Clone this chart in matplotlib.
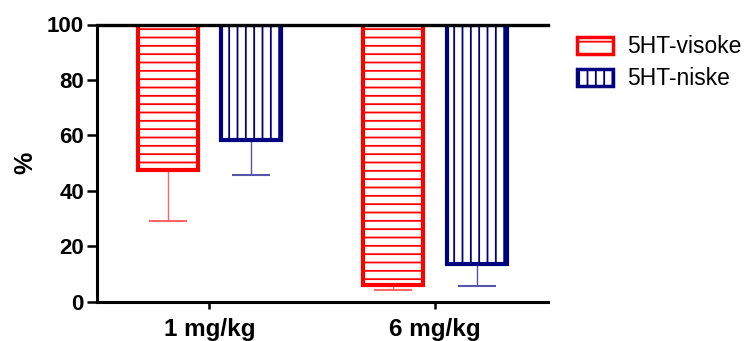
import matplotlib
matplotlib.use("Agg")
import matplotlib.pyplot as plt
from matplotlib.patches import Patch
import numpy as np

# Data: percentage values and downward error (lower end of SEM bar)
categories = ["1 mg/kg", "6 mg/kg"]
series_names = ["5HT-visoke", "5HT-niske"]
visoke = [47.5, 6.0]
niske = [58.3, 13.7]
visoke_err_low = [29.0, 4.0]
niske_err_low = [45.8, 5.5]
y_ticks = [0, 20, 40, 60, 80, 100]

plt.rcParams["font.family"] = ["Liberation Sans", "DejaVu Sans"]
plt.rcParams["hatch.linewidth"] = 1.3

RED = "#ff0000"
BLUE = "#000080"

fig = plt.figure(figsize=(7.49, 3.41), dpi=100)
ax = fig.add_axes([96.5 / 749, 1 - 301.5 / 341, (548 - 96.5) / 749, (301.5 - 24.5) / 341])

x = np.arange(len(categories))
width = 0.265
offset = 0.185

series = [
    (visoke, visoke_err_low, RED, "--", "#ff6666"),
    (niske, niske_err_low, BLUE, "||", "#5555aa"),
]
for i, (vals, errs, col, hatch, ecol) in enumerate(series):
    xs = x + (-offset if i == 0 else offset)
    vals = np.array(vals)
    ax.bar(xs, vals - 100, bottom=100, width=width, facecolor="white",
           edgecolor=col, hatch=hatch, linewidth=3.0, zorder=2)
    lower = vals - np.array(errs)
    ax.errorbar(xs, vals, yerr=[lower, np.zeros_like(lower)], fmt="none",
                ecolor=ecol, elinewidth=1.0, capsize=14, capthick=1.5, zorder=1)

# Reference line at 100 %
ax.axhline(100, color="black", linewidth=2.4, zorder=3, clip_on=False)

ax.set_xlim(-0.5, 1.5)
ax.set_ylim(0, 100)
ax.set_yticks(y_ticks)
ax.set_xticks(x)
ax.set_xticklabels(categories, fontsize=17.5, fontweight="bold")
for lab in ax.get_yticklabels():
    lab.set_fontsize(16)
    lab.set_fontweight("bold")

for side in ["top", "right"]:
    ax.spines[side].set_visible(False)
for side in ["left", "bottom"]:
    ax.spines[side].set_linewidth(2.2)
ax.tick_params(axis="y", length=7, width=1.8, pad=2)
ax.tick_params(axis="x", length=5, width=1.8, pad=7)

ax.set_ylabel("%", fontsize=18, fontweight="bold", labelpad=7)

handles = [
    Patch(facecolor="white", edgecolor=RED, hatch="-", linewidth=2.5),
    Patch(facecolor="white", edgecolor=BLUE, hatch="||", linewidth=2.5),
]
fig.legend(handles, series_names, loc="upper left", bbox_to_anchor=(568 / 749, 1 - 26 / 341),
           frameon=False, fontsize=16.5, handlelength=1.55, handleheight=0.75,
           handletextpad=0.65, labelspacing=0.4, borderaxespad=0)

fig.savefig("out.png", dpi=100)
